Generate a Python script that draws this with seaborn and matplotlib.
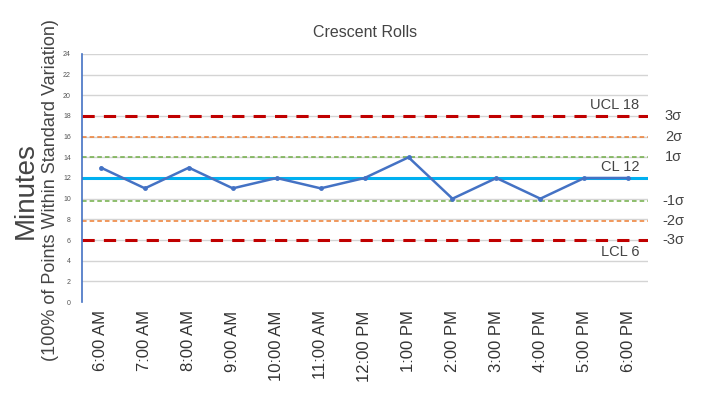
import pandas as pd
import matplotlib.pyplot as plt
import seaborn as sns
sns.set_style("white")
plt.rcParams["font.family"] = ["Liberation Sans", "DejaVu Sans"]

times = ["6:00 AM", "7:00 AM", "8:00 AM", "9:00 AM", "10:00 AM", "11:00 AM",
         "12:00 PM", "1:00 PM", "2:00 PM", "3:00 PM", "4:00 PM", "5:00 PM", "6:00 PM"]
minutes = [13, 11, 13, 11, 12, 11, 12, 14, 10, 12, 10, 12, 12]

center = 12
ucl = 18
lcl = 6
sigma_levels = [14, 16, 9.8, 7.8]
sigma_colors = ["#70AD47", "#ED7D31", "#70AD47", "#ED7D31"]
right_levels = [ucl, 16, 14, 9.8, 7.8, lcl]
right_names = ["3σ", "2σ", "1σ", "-1σ", "-2σ", "-3σ"]

df = pd.DataFrame({"time": times, "minutes": minutes})
df["pos"] = range(len(times))

fig = plt.figure(figsize=(7.2, 4.05), dpi=100)
ax = fig.add_axes([0.114, 0.254, 0.786, 0.613])

# gridlines every 2 minutes
for y in range(2, 25, 2):
    ax.axhline(y, color="#d4d4d4", lw=1, zorder=0)

ax.axhline(ucl, color="#C00000", lw=2.2, ls=(0, (4, 3)), zorder=2)
ax.axhline(lcl, color="#C00000", lw=2.2, ls=(0, (4, 3)), zorder=2)
for lvl, col in zip(sigma_levels, sigma_colors):
    ax.axhline(lvl, color=col, lw=1.1, ls=(0, (3, 2)), zorder=2)
ax.axhline(center, color="#00B0F0", lw=2.2, zorder=2)

sns.lineplot(data=df, x="pos", y="minutes", color="#4472C4", lw=1.8,
             marker="o", markersize=3.5, markeredgewidth=0, ax=ax, zorder=3)

ax.set_xlim(-0.43, 12.45)
ax.set_ylim(0, 24)
ax.set_xticks(df["pos"])
ax.set_xticklabels(times, rotation=90, fontsize=12, color="#333333")
ax.set_yticks(range(0, 25, 2))
ax.set_yticks(range(0, 25, 1), minor=True)
ax.tick_params(axis="y", which="both", labelsize=5, colors="#555555",
               length=2, width=0.6, direction="out", pad=6)
ax.tick_params(axis="y", which="both", color="#4472C4")
ax.tick_params(axis="x", length=0, pad=6)

for side in ["top", "right", "bottom"]:
    ax.spines[side].set_visible(False)
ax.spines["left"].set_color("#4472C4")
ax.spines["left"].set_linewidth(1.2)

# control limit labels
trans = ax.get_yaxis_transform()
ax.text(0.985, ucl + 0.35, "UCL 18", transform=trans, ha="right", va="bottom",
        fontsize=10.5, color="#444444")
ax.text(0.985, center + 0.35, "CL 12", transform=trans, ha="right", va="bottom",
        fontsize=10.5, color="#444444")
ax.text(0.985, lcl - 0.5, "LCL 6", transform=trans, ha="right", va="top",
        fontsize=10.5, color="#444444")

for lvl, name in zip(right_levels, right_names):
    ax.text(1.045, lvl, name, transform=trans, ha="center", va="center",
            fontsize=10.5, color="#444444")

ax.set_title("Crescent Rolls", fontsize=11.5, color="#444444", pad=12)
ax.set_xlabel("")
ax.set_ylabel("")
fig.text(0.036, 0.53, "Minutes", rotation=90, ha="center", va="center",
         fontsize=20, color="#444444")
fig.text(0.07, 0.53, "(100% of Points Within Standard Variation)", rotation=90,
         ha="center", va="center", fontsize=13, color="#444444")

fig.savefig("out.png", dpi=100)
